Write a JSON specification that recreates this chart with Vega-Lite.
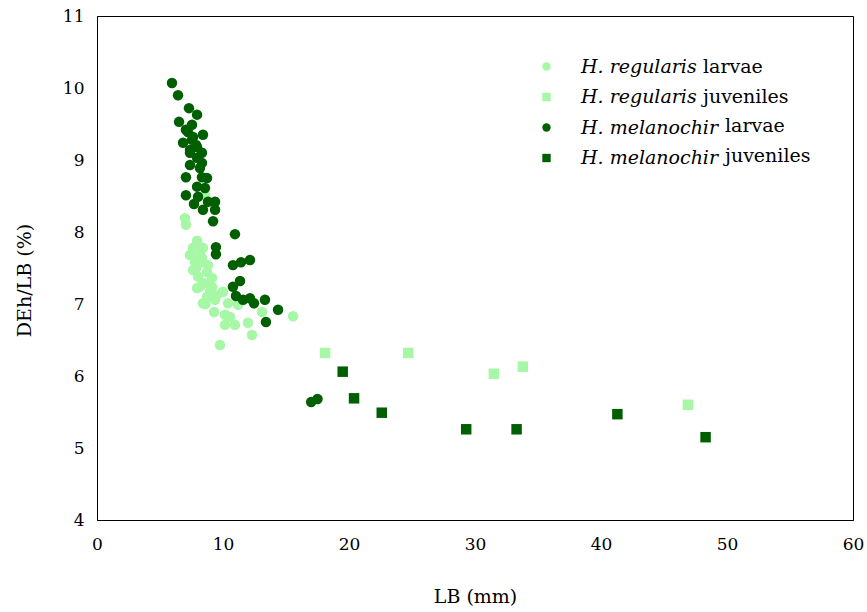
{
  "$schema": "https://vega.github.io/schema/vega-lite/v6.json",
  "width": 756,
  "height": 504,
  "autosize": {"type": "none"},
  "padding": {"left": 97, "top": 16, "right": 14, "bottom": 92},
  "background": "white",
  "config": {
    "font": "DejaVu Serif",
    "view": {"stroke": "#000", "strokeWidth": 1},
    "axis": {
      "grid": false, "ticks": false, "domainColor": "#000", "domainWidth": 1, "labelFlush": false,
      "labelColor": "#000", "labelFont": "DejaVu Serif", "labelFontSize": 17,
      "titleFont": "DejaVu Serif", "titleFontSize": 19, "titleFontWeight": "normal", "titleColor": "#000"
    }
  },
  "datasets": {
    "pts": [
      {"L": 6.98, "D": 8.19, "species": "H. regularis", "stage": "larvae", "group": "H. regularis larvae"},
      {"L": 7.06, "D": 8.10, "species": "H. regularis", "stage": "larvae", "group": "H. regularis larvae"},
      {"L": 7.94, "D": 7.88, "species": "H. regularis", "stage": "larvae", "group": "H. regularis larvae"},
      {"L": 7.62, "D": 7.78, "species": "H. regularis", "stage": "larvae", "group": "H. regularis larvae"},
      {"L": 8.41, "D": 7.78, "species": "H. regularis", "stage": "larvae", "group": "H. regularis larvae"},
      {"L": 8.17, "D": 7.68, "species": "H. regularis", "stage": "larvae", "group": "H. regularis larvae"},
      {"L": 7.38, "D": 7.68, "species": "H. regularis", "stage": "larvae", "group": "H. regularis larvae"},
      {"L": 8.33, "D": 7.64, "species": "H. regularis", "stage": "larvae", "group": "H. regularis larvae"},
      {"L": 7.78, "D": 7.58, "species": "H. regularis", "stage": "larvae", "group": "H. regularis larvae"},
      {"L": 8.81, "D": 7.54, "species": "H. regularis", "stage": "larvae", "group": "H. regularis larvae"},
      {"L": 7.86, "D": 7.50, "species": "H. regularis", "stage": "larvae", "group": "H. regularis larvae"},
      {"L": 7.62, "D": 7.47, "species": "H. regularis", "stage": "larvae", "group": "H. regularis larvae"},
      {"L": 8.73, "D": 7.44, "species": "H. regularis", "stage": "larvae", "group": "H. regularis larvae"},
      {"L": 8.02, "D": 7.38, "species": "H. regularis", "stage": "larvae", "group": "H. regularis larvae"},
      {"L": 9.13, "D": 7.36, "species": "H. regularis", "stage": "larvae", "group": "H. regularis larvae"},
      {"L": 8.49, "D": 7.29, "species": "H. regularis", "stage": "larvae", "group": "H. regularis larvae"},
      {"L": 8.17, "D": 7.24, "species": "H. regularis", "stage": "larvae", "group": "H. regularis larvae"},
      {"L": 9.13, "D": 7.24, "species": "H. regularis", "stage": "larvae", "group": "H. regularis larvae"},
      {"L": 7.94, "D": 7.22, "species": "H. regularis", "stage": "larvae", "group": "H. regularis larvae"},
      {"L": 10.0, "D": 7.17, "species": "H. regularis", "stage": "larvae", "group": "H. regularis larvae"},
      {"L": 8.97, "D": 7.17, "species": "H. regularis", "stage": "larvae", "group": "H. regularis larvae"},
      {"L": 8.73, "D": 7.10, "species": "H. regularis", "stage": "larvae", "group": "H. regularis larvae"},
      {"L": 8.41, "D": 7.01, "species": "H. regularis", "stage": "larvae", "group": "H. regularis larvae"},
      {"L": 9.37, "D": 7.06, "species": "H. regularis", "stage": "larvae", "group": "H. regularis larvae"},
      {"L": 10.40, "D": 7.01, "species": "H. regularis", "stage": "larvae", "group": "H. regularis larvae"},
      {"L": 11.19, "D": 6.99, "species": "H. regularis", "stage": "larvae", "group": "H. regularis larvae"},
      {"L": 9.29, "D": 6.89, "species": "H. regularis", "stage": "larvae", "group": "H. regularis larvae"},
      {"L": 10.16, "D": 6.85, "species": "H. regularis", "stage": "larvae", "group": "H. regularis larvae"},
      {"L": 10.56, "D": 6.82, "species": "H. regularis", "stage": "larvae", "group": "H. regularis larvae"},
      {"L": 10.16, "D": 6.71, "species": "H. regularis", "stage": "larvae", "group": "H. regularis larvae"},
      {"L": 10.95, "D": 6.71, "species": "H. regularis", "stage": "larvae", "group": "H. regularis larvae"},
      {"L": 11.98, "D": 6.74, "species": "H. regularis", "stage": "larvae", "group": "H. regularis larvae"},
      {"L": 12.30, "D": 6.57, "species": "H. regularis", "stage": "larvae", "group": "H. regularis larvae"},
      {"L": 13.10, "D": 6.89, "species": "H. regularis", "stage": "larvae", "group": "H. regularis larvae"},
      {"L": 15.56, "D": 6.83, "species": "H. regularis", "stage": "larvae", "group": "H. regularis larvae"},
      {"L": 9.76, "D": 6.43, "species": "H. regularis", "stage": "larvae", "group": "H. regularis larvae"},
      {"L": 8.57, "D": 8.51, "species": "H. regularis", "stage": "larvae", "group": "H. regularis larvae"},
      {"L": 8.02, "D": 7.55, "species": "H. regularis", "stage": "larvae", "group": "H. regularis larvae"},
      {"L": 8.60, "D": 7.00, "species": "H. regularis", "stage": "larvae", "group": "H. regularis larvae"},
      {"L": 9.50, "D": 7.12, "species": "H. regularis", "stage": "larvae", "group": "H. regularis larvae"},
      {"L": 18.1, "D": 6.32, "species": "H. regularis", "stage": "juveniles", "group": "H. regularis juveniles"},
      {"L": 24.7, "D": 6.32, "species": "H. regularis", "stage": "juveniles", "group": "H. regularis juveniles"},
      {"L": 31.5, "D": 6.03, "species": "H. regularis", "stage": "juveniles", "group": "H. regularis juveniles"},
      {"L": 33.8, "D": 6.13, "species": "H. regularis", "stage": "juveniles", "group": "H. regularis juveniles"},
      {"L": 46.9, "D": 5.60, "species": "H. regularis", "stage": "juveniles", "group": "H. regularis juveniles"},
      {"L": 5.95, "D": 10.07, "species": "H. melanochir", "stage": "larvae", "group": "H. melanochir larvae"},
      {"L": 6.43, "D": 9.90, "species": "H. melanochir", "stage": "larvae", "group": "H. melanochir larvae"},
      {"L": 7.30, "D": 9.72, "species": "H. melanochir", "stage": "larvae", "group": "H. melanochir larvae"},
      {"L": 7.94, "D": 9.63, "species": "H. melanochir", "stage": "larvae", "group": "H. melanochir larvae"},
      {"L": 6.51, "D": 9.53, "species": "H. melanochir", "stage": "larvae", "group": "H. melanochir larvae"},
      {"L": 7.54, "D": 9.49, "species": "H. melanochir", "stage": "larvae", "group": "H. melanochir larvae"},
      {"L": 7.06, "D": 9.42, "species": "H. melanochir", "stage": "larvae", "group": "H. melanochir larvae"},
      {"L": 7.22, "D": 9.39, "species": "H. melanochir", "stage": "larvae", "group": "H. melanochir larvae"},
      {"L": 8.41, "D": 9.35, "species": "H. melanochir", "stage": "larvae", "group": "H. melanochir larvae"},
      {"L": 7.62, "D": 9.32, "species": "H. melanochir", "stage": "larvae", "group": "H. melanochir larvae"},
      {"L": 7.54, "D": 9.28, "species": "H. melanochir", "stage": "larvae", "group": "H. melanochir larvae"},
      {"L": 6.83, "D": 9.24, "species": "H. melanochir", "stage": "larvae", "group": "H. melanochir larvae"},
      {"L": 7.86, "D": 9.21, "species": "H. melanochir", "stage": "larvae", "group": "H. melanochir larvae"},
      {"L": 7.94, "D": 9.18, "species": "H. melanochir", "stage": "larvae", "group": "H. melanochir larvae"},
      {"L": 7.38, "D": 9.14, "species": "H. melanochir", "stage": "larvae", "group": "H. melanochir larvae"},
      {"L": 7.38, "D": 9.10, "species": "H. melanochir", "stage": "larvae", "group": "H. melanochir larvae"},
      {"L": 8.33, "D": 9.10, "species": "H. melanochir", "stage": "larvae", "group": "H. melanochir larvae"},
      {"L": 7.94, "D": 9.03, "species": "H. melanochir", "stage": "larvae", "group": "H. melanochir larvae"},
      {"L": 8.33, "D": 8.96, "species": "H. melanochir", "stage": "larvae", "group": "H. melanochir larvae"},
      {"L": 7.38, "D": 8.93, "species": "H. melanochir", "stage": "larvae", "group": "H. melanochir larvae"},
      {"L": 8.17, "D": 8.89, "species": "H. melanochir", "stage": "larvae", "group": "H. melanochir larvae"},
      {"L": 7.06, "D": 8.76, "species": "H. melanochir", "stage": "larvae", "group": "H. melanochir larvae"},
      {"L": 8.33, "D": 8.76, "species": "H. melanochir", "stage": "larvae", "group": "H. melanochir larvae"},
      {"L": 8.73, "D": 8.75, "species": "H. melanochir", "stage": "larvae", "group": "H. melanochir larvae"},
      {"L": 7.94, "D": 8.63, "species": "H. melanochir", "stage": "larvae", "group": "H. melanochir larvae"},
      {"L": 8.57, "D": 8.61, "species": "H. melanochir", "stage": "larvae", "group": "H. melanochir larvae"},
      {"L": 7.06, "D": 8.51, "species": "H. melanochir", "stage": "larvae", "group": "H. melanochir larvae"},
      {"L": 8.02, "D": 8.49, "species": "H. melanochir", "stage": "larvae", "group": "H. melanochir larvae"},
      {"L": 7.70, "D": 8.39, "species": "H. melanochir", "stage": "larvae", "group": "H. melanochir larvae"},
      {"L": 8.81, "D": 8.42, "species": "H. melanochir", "stage": "larvae", "group": "H. melanochir larvae"},
      {"L": 9.37, "D": 8.42, "species": "H. melanochir", "stage": "larvae", "group": "H. melanochir larvae"},
      {"L": 8.41, "D": 8.31, "species": "H. melanochir", "stage": "larvae", "group": "H. melanochir larvae"},
      {"L": 9.37, "D": 8.31, "species": "H. melanochir", "stage": "larvae", "group": "H. melanochir larvae"},
      {"L": 9.21, "D": 8.15, "species": "H. melanochir", "stage": "larvae", "group": "H. melanochir larvae"},
      {"L": 10.95, "D": 7.97, "species": "H. melanochir", "stage": "larvae", "group": "H. melanochir larvae"},
      {"L": 9.44, "D": 7.79, "species": "H. melanochir", "stage": "larvae", "group": "H. melanochir larvae"},
      {"L": 9.44, "D": 7.69, "species": "H. melanochir", "stage": "larvae", "group": "H. melanochir larvae"},
      {"L": 10.79, "D": 7.54, "species": "H. melanochir", "stage": "larvae", "group": "H. melanochir larvae"},
      {"L": 11.43, "D": 7.58, "species": "H. melanochir", "stage": "larvae", "group": "H. melanochir larvae"},
      {"L": 12.14, "D": 7.61, "species": "H. melanochir", "stage": "larvae", "group": "H. melanochir larvae"},
      {"L": 11.35, "D": 7.32, "species": "H. melanochir", "stage": "larvae", "group": "H. melanochir larvae"},
      {"L": 10.79, "D": 7.24, "species": "H. melanochir", "stage": "larvae", "group": "H. melanochir larvae"},
      {"L": 11.03, "D": 7.11, "species": "H. melanochir", "stage": "larvae", "group": "H. melanochir larvae"},
      {"L": 11.59, "D": 7.06, "species": "H. melanochir", "stage": "larvae", "group": "H. melanochir larvae"},
      {"L": 12.14, "D": 7.08, "species": "H. melanochir", "stage": "larvae", "group": "H. melanochir larvae"},
      {"L": 12.46, "D": 7.01, "species": "H. melanochir", "stage": "larvae", "group": "H. melanochir larvae"},
      {"L": 13.33, "D": 7.06, "species": "H. melanochir", "stage": "larvae", "group": "H. melanochir larvae"},
      {"L": 14.37, "D": 6.92, "species": "H. melanochir", "stage": "larvae", "group": "H. melanochir larvae"},
      {"L": 13.41, "D": 6.75, "species": "H. melanochir", "stage": "larvae", "group": "H. melanochir larvae"},
      {"L": 17.0, "D": 5.64, "species": "H. melanochir", "stage": "larvae", "group": "H. melanochir larvae"},
      {"L": 17.5, "D": 5.68, "species": "H. melanochir", "stage": "larvae", "group": "H. melanochir larvae"},
      {"L": 19.5, "D": 6.06, "species": "H. melanochir", "stage": "juveniles", "group": "H. melanochir juveniles"},
      {"L": 20.4, "D": 5.69, "species": "H. melanochir", "stage": "juveniles", "group": "H. melanochir juveniles"},
      {"L": 22.6, "D": 5.49, "species": "H. melanochir", "stage": "juveniles", "group": "H. melanochir juveniles"},
      {"L": 29.3, "D": 5.26, "species": "H. melanochir", "stage": "juveniles", "group": "H. melanochir juveniles"},
      {"L": 33.3, "D": 5.26, "species": "H. melanochir", "stage": "juveniles", "group": "H. melanochir juveniles"},
      {"L": 41.3, "D": 5.47, "species": "H. melanochir", "stage": "juveniles", "group": "H. melanochir juveniles"},
      {"L": 48.3, "D": 5.15, "species": "H. melanochir", "stage": "juveniles", "group": "H. melanochir juveniles"}
    ]
  },
  "data": {"name": "pts"},
  "encoding": {
    "x": {
      "field": "L", "type": "quantitative",
      "scale": {"domain": [0, 60], "nice": false, "zero": false},
      "axis": {"title": "LB (mm)", "values": [0, 10, 20, 30, 40, 50, 60], "labelPadding": 16, "titleX": 378, "titleY": 76, "titleBaseline": "middle", "titleAlign": "center"}
    },
    "y": {
      "field": "D", "type": "quantitative",
      "scale": {"domain": [4, 11], "nice": false, "zero": false},
      "axis": {"title": "DEh/LB (%)", "values": [4, 5, 6, 7, 8, 9, 10, 11], "labelPadding": 13, "titleX": -73, "titleY": 264, "titleAngle": -90, "titleBaseline": "middle", "titleAlign": "center"}
    }
  },
  "layer": [
    {
      "mark": {"type": "point", "filled": true, "opacity": 1, "size": 110, "strokeWidth": 0},
      "encoding": {
        "color": {
          "field": "group", "type": "nominal",
          "scale": {"domain": ["H. regularis larvae", "H. regularis juveniles", "H. melanochir larvae", "H. melanochir juveniles"], "range": ["#a6f7a6", "#a6f7a6", "#005f00", "#005f00"]},
          "legend": {"orient": "none", "legendX": 440, "legendY": 41, "title": null, "padding": 0, "symbolSize": 70, "symbolStrokeWidth": 0, "labelFont": "DejaVu Serif", "labelFontSize": 19, "labelFontStyle": "italic", "labelColor": "#000", "labelOffset": 25, "rowPadding": 10.5, "labelExpr": "indexof(datum.label, 'regularis') >= 0 ? 'H. regularis' : 'H. melanochir'"}
        },
        "shape": {
          "field": "group", "type": "nominal",
          "scale": {"domain": ["H. regularis larvae", "H. regularis juveniles", "H. melanochir larvae", "H. melanochir juveniles"], "range": ["circle", "square", "circle", "square"]},
          "legend": {"orient": "none", "legendX": 440, "legendY": 41, "title": null, "padding": 0, "symbolSize": 70, "symbolStrokeWidth": 0, "labelFont": "DejaVu Serif", "labelFontSize": 19, "labelFontStyle": "italic", "labelColor": "#000", "labelOffset": 25, "rowPadding": 10.5, "labelExpr": "indexof(datum.label, 'regularis') >= 0 ? 'H. regularis' : 'H. melanochir'"}
        }
      }
    },
    {
      "transform": [{"filter": "datum.species == 'H. regularis'"}],
      "mark": {"type": "point", "filled": true, "opacity": 0, "size": 100, "strokeWidth": 0},
      "encoding": {
        "color": {
          "field": "stage", "type": "nominal",
          "scale": {"domain": ["larvae", "juveniles"], "range": ["#ffffff", "#ffffff"]},
          "legend": {"orient": "none", "legendX": 587, "legendY": 41, "title": null, "padding": 0, "symbolSize": 70, "symbolOpacity": 0, "symbolStrokeWidth": 0, "labelFont": "DejaVu Serif", "labelFontSize": 19, "labelColor": "#000", "labelOffset": 0, "rowPadding": 10.5}
        }
      }
    },
    {
      "transform": [{"filter": "datum.species == 'H. melanochir'"}],
      "mark": {"type": "point", "filled": true, "opacity": 0, "size": 100, "strokeWidth": 0},
      "encoding": {
        "color": {
          "field": "stage", "type": "nominal",
          "scale": {"domain": ["larvae", "juveniles"], "range": ["#ffffff", "#ffffff"]},
          "legend": {"orient": "none", "legendX": 609, "legendY": 100, "title": null, "padding": 0, "symbolSize": 70, "symbolOpacity": 0, "symbolStrokeWidth": 0, "labelFont": "DejaVu Serif", "labelFontSize": 19, "labelColor": "#000", "labelOffset": 0, "rowPadding": 10.5}
        }
      }
    }
  ],
  "resolve": {
    "scale": {"color": "independent", "shape": "independent"},
    "legend": {"color": "independent", "shape": "independent"}
  }
}
